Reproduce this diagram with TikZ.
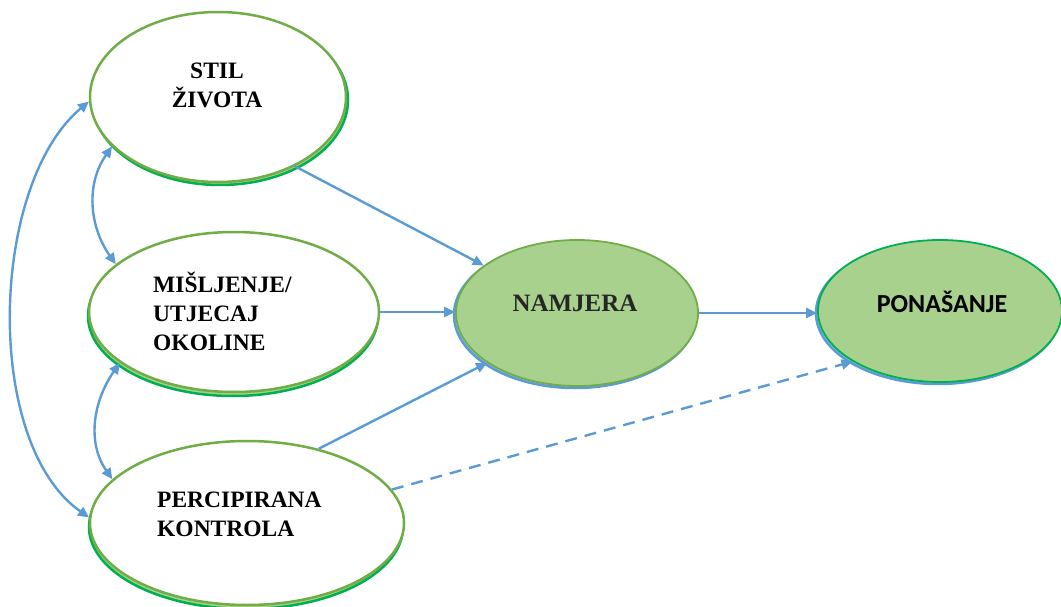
\documentclass[tikz,border=0pt]{standalone}
\usepackage{fontspec}
\setmainfont{Liberation Serif}
\newfontfamily\calib{Carlito}
\usetikzlibrary{shapes.geometric,arrows.meta}
\definecolor{ovalgreen}{HTML}{70AD47}
\definecolor{darkgreen}{HTML}{00B050}
\definecolor{lightgreen}{HTML}{A9D18E}
\definecolor{arrowblue}{HTML}{5B9BD5}
\definecolor{textgray}{HTML}{262626}
\tikzset{
  oval/.style={ellipse, draw=ovalgreen, line width=2.5pt, fill=white, inner sep=0pt},
  greenoval/.style={ellipse, draw=ovalgreen, line width=1.8pt, fill=lightgreen, inner sep=0pt},
  shadowg/.style={ellipse, draw=darkgreen, line width=2.5pt, fill=lightgreen, inner sep=0pt},
  shadowb/.style={ellipse, draw=arrowblue, line width=2.5pt, fill=arrowblue!60, inner sep=0pt},
  lbl/.style={font=\fontsize{23.5}{29}\selectfont\bfseries, inner sep=0pt},
  link/.style={draw=arrowblue, line width=2.4pt, -{Triangle[length=11pt,width=10pt]}},
  biglink/.style={draw=arrowblue, line width=2.4pt, {Triangle[length=11pt,width=10pt]}-{Triangle[length=11pt,width=10pt]}},
}
\begin{document}
\begin{tikzpicture}[x=1pt,y=1pt]
\useasboundingbox (0,0) rectangle (1061,-607);
% shadows
\node[shadowg, minimum width=256pt, minimum height=170pt] (stilsh) at (220,-100) {};
\node[shadowg, minimum width=290pt, minimum height=160pt] (mislsh) at (233,-316) {};
\node[shadowg, minimum width=314pt, minimum height=164pt] (percsh) at (246,-527) {};
\node[shadowb, minimum width=242pt, minimum height=146pt] (namsh) at (575,-315) {};
\node[shadowb, minimum width=244pt, minimum height=142pt] (ponsh) at (938,-313) {};
% ellipses
\node[oval, minimum width=256pt, minimum height=170pt] (stil) at (218,-97) {};
\node[oval, minimum width=290pt, minimum height=160pt] (misl) at (234,-312) {};
\node[oval, minimum width=314pt, minimum height=164pt] (perc) at (247,-523) {};
\node[greenoval, minimum width=242pt, minimum height=146pt] (nam) at (577,-313) {};
\node[greenoval, draw=darkgreen, minimum width=244pt, minimum height=142pt] (pon) at (940,-311) {};
% texts
\node[lbl, align=center] (stiltxt) at (217,-85) {STIL\\ŽIVOTA};
\node[lbl, align=left, anchor=west] (misltxt) at (153,-311) {MIŠLJENJE/\\UTJECAJ\\OKOLINE};
\node[lbl, align=left, anchor=west] (perctxt) at (157,-514) {PERCIPIRANA\\KONTROLA};
\node[lbl, text=textgray, font=\fontsize{25}{29}\selectfont\bfseries] (namtxt) at (575,-303) {NAMJERA};
\node[lbl, font=\fontsize{26}{29}\selectfont\calib\bfseries] (pontxt) at (942,-302) {PONAŠANJE};
% connectors
\draw[link] (stil.318) -- (nam.153);
\draw[link] (misl.east) -- (misl.east -| nam.west);
\draw[link] (perc.46) -- (nam.209);
\draw[link] (nam.east) -- (nam.east -| pon.west);
\draw[link, dash pattern=on 12pt off 8pt] (perc.13) -- (pon.210);
\draw[biglink] (stil.205) to[out=235,in=125] (misl.158);
\draw[biglink] (misl.204) to[out=235,in=125] (perc.162);
\draw[biglink] (stil.182) to[out=220,in=145,looseness=0.8] (perc.178);
\end{tikzpicture}
\end{document}
